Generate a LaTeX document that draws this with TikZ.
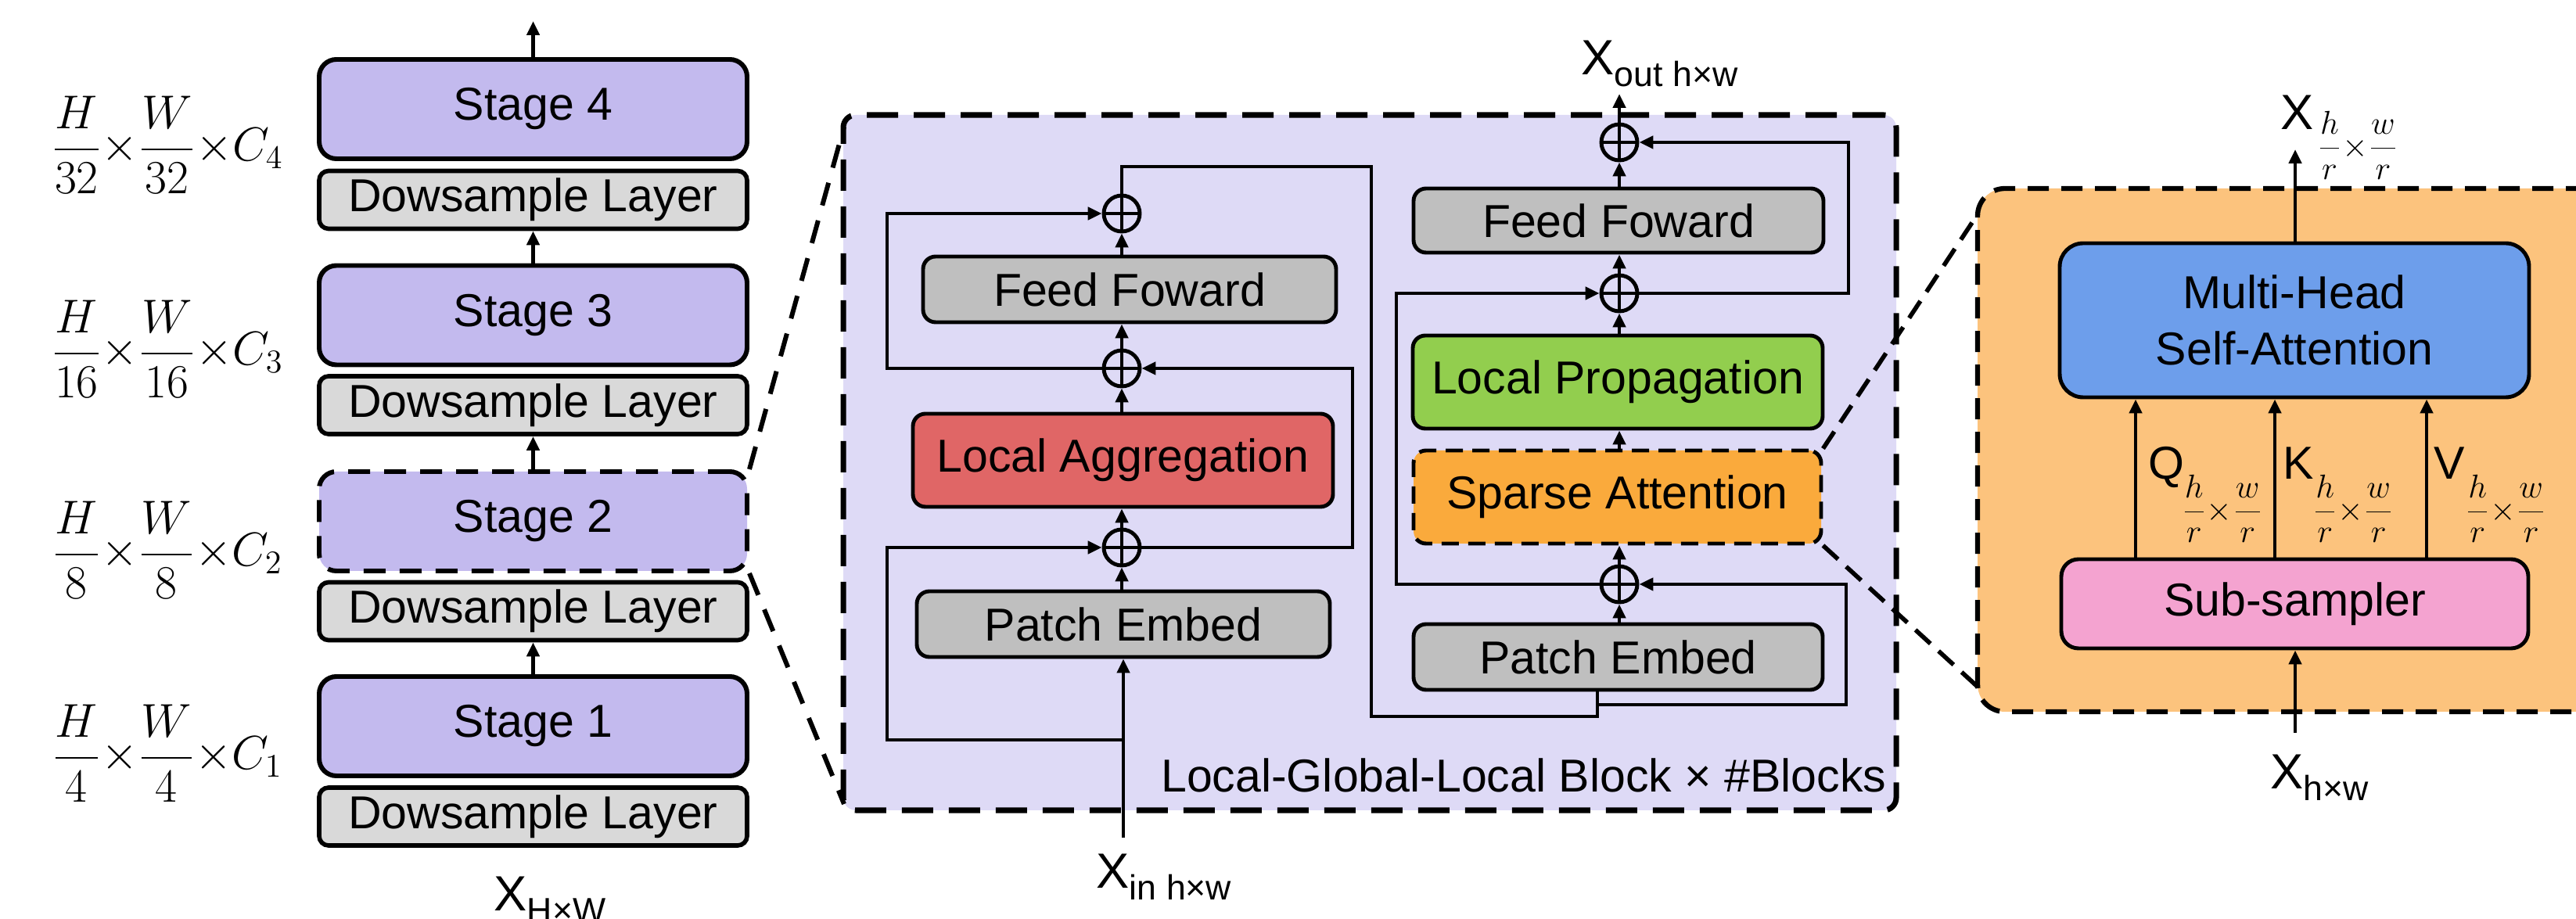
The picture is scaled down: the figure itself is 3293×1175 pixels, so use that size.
\documentclass[tikz,border=0pt]{standalone}
\usepackage{fontspec}
\setmainfont{Liberation Sans}
\usetikzlibrary{arrows.meta}
\definecolor{stagecol}{RGB}{195,186,238}
\definecolor{dscol}{RGB}{217,217,217}
\definecolor{lglcol}{RGB}{222,218,246}
\definecolor{graycol}{RGB}{191,191,191}
\definecolor{redcol}{RGB}{224,102,102}
\definecolor{greencol}{RGB}{146,206,78}
\definecolor{sparsecol}{RGB}{250,170,60}
\definecolor{panelcol}{RGB}{252,195,125}
\definecolor{bluecol}{RGB}{109,158,235}
\definecolor{pinkcol}{RGB}{244,163,208}
\newcommand{\Xlab}[1]{{\fontsize{18}{20}\selectfont X}\raisebox{-1.5mm}{\fontsize{12.7}{14}\selectfont #1}}
\newcommand{\hwfrac}{{\fontsize{12.5}{12.5}\selectfont$\displaystyle\frac{h}{r}{\times}\frac{w}{r}$}}
\begin{document}
\begin{tikzpicture}[x=0.1mm,y=-0.1mm,
  txt/.style={font=\fontsize{16.8}{20.7}\selectfont},
  box/.style={draw,line width=1.4pt,rounded corners=1.6mm,inner sep=0pt,align=center,txt},
  stagebox/.style={box,line width=1.7pt,rounded corners=2.2mm,fill=stagecol,minimum width=54.7mm,minimum height=12.7mm},
  dsbox/.style={box,line width=1.6pt,rounded corners=1.2mm,fill=dscol,minimum width=54.7mm,minimum height=7.4mm},
  plus/.style={circle,draw,line width=1.4pt,minimum size=4.6mm,inner sep=0pt,
    path picture={\draw[line width=1.4pt] (path picture bounding box.north) -- (path picture bounding box.south)
      (path picture bounding box.west) -- (path picture bounding box.east);}},
  conn/.style={line width=1.4pt},
  arr/.style={conn,-{Triangle[length=1.8mm,width=1.6mm]}},
  dimlbl/.style={anchor=base,font=\fontsize{17}{20}\selectfont},
  zoomline/.style={line width=1.7pt,dash pattern=on 3mm off 2mm}]
\useasboundingbox (0,0) rectangle (3293,1175);
\clip (0,0) rectangle (3293,1175);

% ---------- left column ----------
\node[stagebox] (st4) at (681.5,139.5) {Stage 4};
\node[dsbox] (ds4) at (681.5,255.5) {Dowsample Layer};
\node[stagebox] (st3) at (681.5,403) {Stage 3};
\node[dsbox] (ds3) at (681.5,518) {Dowsample Layer};
\node[stagebox,dash pattern=on 2.8mm off 1.8mm] (st2) at (681.5,666.5) {Stage 2};
\node[dsbox] (ds2) at (681.5,781.5) {Dowsample Layer};
\node[stagebox] (st1) at (681.5,928.5) {Stage 1};
\node[dsbox] (ds1) at (681.5,1044) {Dowsample Layer};

\coordinate (top4) at (681.5,27);
\draw[arr] (st4.north) -- (top4);
\draw[arr] (st3.north) -- (ds4.south);
\draw[arr] (st2.north) -- (ds3.south);
\draw[arr] (st1.north) -- (ds2.south);

\node[dimlbl] (l4) at (214,206) {$\displaystyle\frac{H}{32}{\times}\frac{W}{32}{\times}C_4$};
\node[dimlbl] (l3) at (214,467) {$\displaystyle\frac{H}{16}{\times}\frac{W}{16}{\times}C_3$};
\node[dimlbl] (l2) at (214,724) {$\displaystyle\frac{H}{8}{\times}\frac{W}{8}{\times}C_2$};
\node[dimlbl] (l1) at (214,984) {$\displaystyle\frac{H}{4}{\times}\frac{W}{4}{\times}C_1$};
\node[anchor=base west,inner sep=0pt] (xHW) at (631,1164) {\Xlab{H×W}};

% ---------- middle panel ----------
\node[draw,fill=lglcol,line width=2pt,dash pattern=on 4mm off 2mm,rounded corners=1.6mm,
  minimum width=134.6mm,minimum height=88.9mm,inner sep=0pt] (lgl) at (1751,591.5) {};
\coordinate (lgltl) at (1079,162);
\coordinate (lglbl) at (1079,1028);
\draw[zoomline] (st2.north east) -- (lgltl);
\draw[zoomline] (st2.south east) -- (lglbl);

\node[box,fill=graycol,minimum width=52.8mm,minimum height=8.4mm] (ff1) at (1444,370) {Feed Foward};
\node[box,fill=redcol,minimum width=53.7mm,minimum height=11.9mm] (la) at (1435.5,588.5) {Local Aggregation};
\node[box,fill=graycol,minimum width=52.8mm,minimum height=8.4mm] (pe1) at (1436,798) {Patch Embed};
\node[plus] (o3) at (1434,273) {};
\node[plus] (o2) at (1434,471) {};
\node[plus] (o1) at (1434,700) {};

\node[box,fill=graycol,minimum width=52.4mm,minimum height=8.2mm] (ff2) at (2069,282) {Feed Foward};
\node[box,fill=greencol,minimum width=52.4mm,minimum height=11.9mm] (lp) at (2068,488.5) {Local Propagation};
\node[box,fill=sparsecol,dash pattern=on 2.2mm off 1.2mm,minimum width=52.1mm,minimum height=11.9mm] (sa) at (2067.5,635.5) {Sparse Attention};
\node[box,fill=graycol,minimum width=52.3mm,minimum height=8.4mm] (pe2) at (2068.5,840) {Patch Embed};
\node[plus] (o6) at (2070,182) {};
\node[plus] (o5) at (2070,375) {};
\node[plus] (o4) at (2070,747) {};

\coordinate (xin) at (1436,1071);
\coordinate (b1) at (1436,946);
\coordinate (lx) at (1134,0);
\coordinate (rx) at (1729,0);
\coordinate (c1) at (1753,213);
\coordinate (c2) at (1753,916);
\coordinate (pin) at (2042,916);
\coordinate (b2) at (2042,901);
\coordinate (rx2) at (2360,0);
\coordinate (lx2) at (1785,0);
\coordinate (rx3) at (2363,0);
\coordinate (xout) at (2070,120);

\draw[arr] (xin) -- (xin |- pe1.south);
\draw[arr] (pe1.north -| o1) -- (o1.south);
\draw[arr] (o1.north) -- (o1 |- la.south);
\draw[arr] (la.north -| o2) -- (o2.south);
\draw[arr] (o2.north) -- (o2 |- ff1.south);
\draw[arr] (ff1.north -| o3) -- (o3.south);
\draw[arr] (b1) -| (lx |- o1) -- (o1.west);
\draw[arr] (o1.east) -| (rx |- o2) -- (o2.east);
\draw[arr] (o2.west) -| (lx |- o3) -- (o3.west);
\draw[conn] (o3.north) |- (c1) -- (c2) -- (pin) -- (pin |- pe2.south);

\draw[arr] (b2) -| (rx2 |- o4) -- (o4.east);
\draw[arr] (pe2.north -| o4) -- (o4.south);
\draw[arr] (o4.north) -- (o4 |- sa.south);
\draw[arr] (sa.north -| o5) -- (o5 |- lp.south);
\draw[arr] (lp.north -| o5) -- (o5.south);
\draw[arr] (o5.north) -- (o5 |- ff2.south);
\draw[arr] (ff2.north -| o6) -- (o6.south);
\draw[arr] (o6.north) -- (xout);
\draw[arr] (o4.west) -| (lx2 |- o5) -- (o5.west);
\draw[arr] (o5.east) -| (rx3 |- o6) -- (o6.east);

\node[anchor=base east,inner sep=0pt,txt] (lgllbl) at (2412,1013) {Local-Global-Local Block × \#Blocks};
\node[anchor=base west,inner sep=0pt] (xinl) at (1401,1136) {\Xlab{in h×w}};
\node[anchor=base west,inner sep=0pt] (xoutl) at (2021,96) {\Xlab{out h×w}};

% ---------- right panel ----------
\node[draw,fill=panelcol,line width=1.8pt,dash pattern=on 2.7mm off 1.6mm,rounded corners=3.5mm,
  minimum width=90mm,minimum height=66.9mm,inner sep=0pt] (op) at (2978,575.5) {};
\coordinate (optl) at (2528,274);
\coordinate (opbl) at (2528,878);
\draw[line width=1.6pt,dash pattern=on 2.6mm off 1.4mm] (sa.north east) -- (optl);
\draw[line width=1.6pt,dash pattern=on 2.6mm off 1.4mm] (sa.south east) -- (opbl);

\node[box,fill=bluecol,rounded corners=3mm,minimum width=60mm,minimum height=19.7mm] (mhsa) at (2933,409.5) {Multi-Head\\Self-Attention};
\node[box,fill=pinkcol,rounded corners=2.2mm,minimum width=59.7mm,minimum height=11.4mm] (ss) at (2933.5,772) {Sub-sampler};

\coordinate (qx) at (2730,0);
\coordinate (kx) at (2908,0);
\coordinate (vx) at (3102,0);
\coordinate (xo2) at (2934,191);
\coordinate (xi2) at (2934,937);
\draw[arr] (ss.north -| qx) -- (mhsa.south -| qx);
\draw[arr] (ss.north -| kx) -- (mhsa.south -| kx);
\draw[arr] (ss.north -| vx) -- (mhsa.south -| vx);
\draw[arr] (mhsa.north -| xo2) -- (xo2);
\draw[arr] (xi2) -- (ss.south -| xi2);

\node[anchor=base west,inner sep=0pt,txt] (ql) at (2746,613) {Q\kern-0.4mm\raisebox{-14.8pt}{\hwfrac}};
\node[anchor=base west,inner sep=0pt,txt] (kl) at (2918,613) {K\kern-0.2mm\raisebox{-14.8pt}{\hwfrac}};
\node[anchor=base west,inner sep=0pt,txt] (vl) at (3111,613) {V\kern0mm\raisebox{-14.8pt}{\hwfrac}};
\node[anchor=base west,inner sep=0pt] (xrl) at (2915,166) {{\fontsize{18}{20}\selectfont X}\kern0.4mm\raisebox{-9.7pt}{\hwfrac}};
\node[anchor=base west,inner sep=0pt] (xhw2) at (2902,1009) {\Xlab{h×w}};
\end{tikzpicture}
\end{document}
